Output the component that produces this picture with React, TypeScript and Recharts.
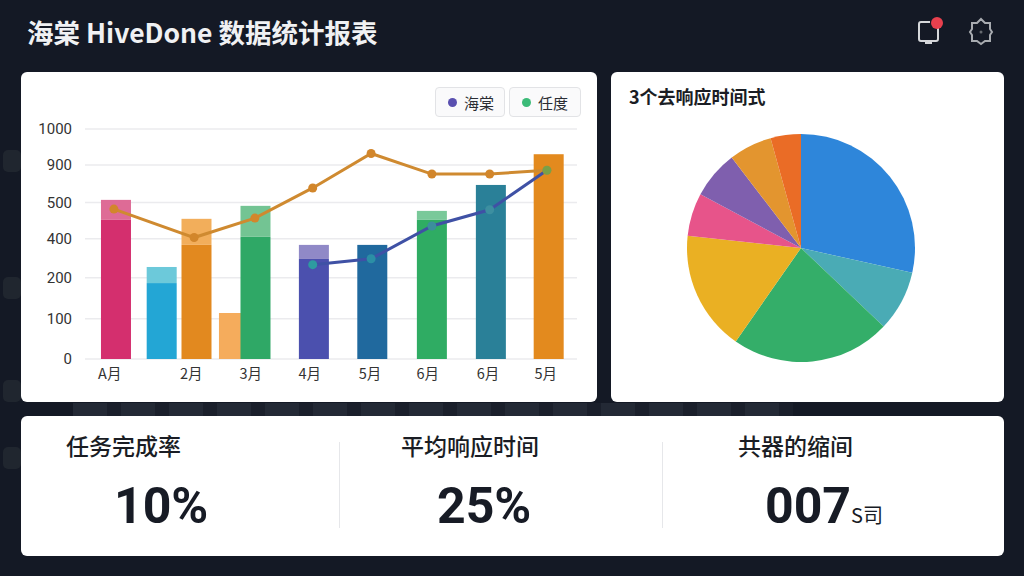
import { Bar, CartesianGrid, Cell, ComposedChart, Line, Pie, PieChart, XAxis, YAxis } from "recharts";

const FONT = '"Noto Sans CJK SC", "Noto Sans", sans-serif';

// y axis labels, and where each one sits on the axis (roughly even, not to scale)
const yTicks = [0, 100, 200, 400, 500, 900, 1000];
const yStops = [0, 1.05, 2.12, 3.14, 4.08, 5.06, 6];

// bars, left to right
const barX = [0.525, 1.3, 1.89, 2.525, 2.89, 3.88, 4.87, 5.88, 6.88, 7.86];
const barBase = [452, 187, 368, 114, 405, 296, 368, 452, 688, 930];
const barTop = [529, 255, 455, 114, 491, 368, 368, 477, 688, 930];
const baseColors = ["#d42f6e", "#23a6d5", "#e2891f", "#f5ac5c", "#2fa866", "#4b50ae", "#20699e", "#2fac63", "#2a8098", "#e38a1e"];
const topColors = ["#de6b96", "#6cc9da", "#f2ae5b", "#f5ac5c", "#73c493", "#9089c7", "#20699e", "#79c99a", "#2a8098", "#e38a1e"];

// lines
const lineX = [0.49, 1.85, 2.88, 3.86, 4.85, 5.88, 6.86, 7.83];
const orangeValues = [482, 403, 457, 656, 932, 804, 804, 845];
const indigoValues = [null, null, null, 267, 297, 435, 480, 845];
const indigoDots = ["", "", "", "#2e9aa0", "#2b8fa5", "#3b8f9c", "#3d8fa0", "#7aa048"];

// x axis
const xTicks = [0.42, 1.8, 2.81, 3.81, 4.83, 5.81, 6.83, 7.81];
const xLabels = ["A月", "2月", "3月", "4月", "5月", "6月", "6月", "5月"];

// pie
const pieValues = [28.5, 8.6, 22.6, 17, 6.1, 6.8, 6.1, 4.3];
const pieColors = ["#2e86da", "#4aabb5", "#34ae69", "#eab023", "#e7548a", "#7f5fae", "#e3952f", "#ea6c26"];

const legendItems = [
  { name: "海棠", color: "#5a50b0", width: 70 },
  { name: "任度", color: "#3cbb78", width: 72 },
];

const BAR_W = 30;

// value -> position on the axis
function toAxis(v: number) {
  for (let i = 1; i < yTicks.length; i++) {
    if (v <= yTicks[i]) {
      return yStops[i - 1] + ((v - yTicks[i - 1]) / (yTicks[i] - yTicks[i - 1])) * (yStops[i] - yStops[i - 1]);
    }
  }
  return yStops[yStops.length - 1];
}

const barRows = barX.map((x, i) => ({
  x,
  base: toAxis(barBase[i]),
  top: toAxis(barTop[i]) - toAxis(barBase[i]),
}));
const orangeRows = lineX.map((x, i) => ({ x, orange: toAxis(orangeValues[i]) }));
const indigoRows = lineX
  .map((x, i) => ({ x, indigo: indigoValues[i] === null ? null : toAxis(indigoValues[i] as number), color: indigoDots[i] }))
  .filter((d) => d.indigo !== null);
const pieData = pieValues.map((value, i) => ({ name: "s" + i, value }));

const card = (left: number, top: number, width: number, height: number): React.CSSProperties => ({
  position: "absolute",
  left,
  top,
  width,
  height,
  background: "#fff",
  borderRadius: 6,
});

// the axis is numeric, so the band is too narrow for the bar: widen around the scaled centre
const wideBar = (colors: string[]) => (p: any) =>
  <rect key={p.index} x={p.x + p.width / 2 - BAR_W / 2} y={p.y} width={BAR_W} height={Math.max(p.height, 0)} fill={colors[p.index]} />;

function Kpi({ label, value, unit, labelX, valueX }: { label: string; value: string; unit?: string; labelX: number; valueX: number }) {
  return (
    <>
      <div style={{ position: "absolute", left: labelX, top: 12, fontSize: 23, fontWeight: 500, color: "#1a1d24", whiteSpace: "nowrap" }}>{label}</div>
      <div style={{ position: "absolute", left: valueX, top: 55, fontFamily: "Roboto, sans-serif", fontSize: 50, lineHeight: "70px", fontWeight: 700, color: "#171b25", whiteSpace: "nowrap" }}>
        {value}
        {unit && <span style={{ fontFamily: FONT, fontSize: 20, fontWeight: 400 }}>{unit}</span>}
      </div>
    </>
  );
}

export default function App() {
  return (
    <div style={{ position: "fixed", left: 0, top: 0, width: 1024, height: 576, overflow: "hidden", background: "#141925", fontFamily: FONT }}>
      {/* faint shapes in the background */}
      <div
        style={{
          position: "absolute",
          left: 73,
          top: 403,
          width: 720,
          height: 13,
          background: "repeating-linear-gradient(90deg, #232935 0 34px, #1a1f2b 34px 48px)",
        }}
      />
      {[150, 277, 380, 447].map((y) => (
        <div key={y} style={{ position: "absolute", left: 3, top: y, width: 18, height: 22, borderRadius: 5, background: "#20262f" }} />
      ))}

      <div style={{ position: "absolute", left: 27, top: 13, fontSize: 26.5, lineHeight: "38px", fontWeight: 700, color: "#f0f1f3", whiteSpace: "nowrap" }}>
        海棠 HiveDone 数据统计报表
      </div>

      <svg width={100} height={40} style={{ position: "absolute", left: 910, top: 12 }} fill="none" stroke="#d5d7da" strokeWidth={2}>
        <path d="M20 10 H11 a2 2 0 0 0 -2 2 V27 a2 2 0 0 0 2 2 H26 a2 2 0 0 0 2 -2 V16 M16 29 v2 h5 v-2" />
        <circle cx={27} cy={11} r={6} fill="#e8404e" stroke="none" />
        <path d="M71 7 l4 4 h5 v6 l2 3 -2 3 v6 h-5 l-4 3 -4 -3 h-5 v-6 l-2 -3 2 -3 v-6 h5 z" stroke="#a8abb0" />
        <circle cx={71} cy={20} r={1.5} fill="#666a70" stroke="none" />
      </svg>

      {/* combo chart */}
      <div style={card(21, 72, 576, 330)}>
        <ComposedChart width={576} height={330} data={barRows} margin={{ top: 57, right: 20, bottom: 0, left: 0 }}>
          <CartesianGrid vertical={false} stroke="#ebebee" strokeWidth={1.5} />
          <XAxis
            dataKey="x"
            type="number"
            domain={[0, 8.34]}
            ticks={xTicks}
            interval={0}
            tickFormatter={(_: number, i: number) => xLabels[i]}
            axisLine={false}
            tickLine={false}
            height={43}
            tickMargin={4}
            tick={{ fontSize: 14.5, fill: "#333", fontFamily: FONT }}
          />
          <YAxis
            type="number"
            domain={[0, yStops[yStops.length - 1]]}
            ticks={yStops}
            interval={0}
            tickFormatter={(_: number, i: number) => String(yTicks[i])}
            axisLine={false}
            tickLine={false}
            width={64}
            tickMargin={7}
            tick={{ fontSize: 15, fill: "#333", fontFamily: "Roboto, sans-serif" }}
          />
          <Bar dataKey="base" stackId="a" shape={wideBar(baseColors)} isAnimationActive={false} />
          <Bar dataKey="top" stackId="a" shape={wideBar(topColors)} isAnimationActive={false} />
          <Line
            data={orangeRows}
            dataKey="orange"
            stroke="#cf8a30"
            strokeWidth={3}
            dot={{ r: 4.5, fill: "#d2862b", stroke: "none" }}
            isAnimationActive={false}
          />
          <Line
            data={indigoRows}
            dataKey="indigo"
            stroke="#3f51a5"
            strokeWidth={3}
            dot={(p: any) => <circle key={p.index} cx={p.cx} cy={p.cy} r={4.5} fill={p.payload.color} />}
            isAnimationActive={false}
          />
        </ComposedChart>
        <div style={{ position: "absolute", left: 414, top: 15, display: "flex", gap: 4 }}>
          {legendItems.map((d) => (
            <div
              key={d.name}
              style={{
                width: d.width,
                height: 30,
                boxSizing: "border-box",
                border: "1px solid #e2e3e6",
                borderRadius: 4,
                background: "#fafafb",
                display: "flex",
                alignItems: "center",
                paddingLeft: 12,
                fontSize: 15,
                color: "#2a2d33",
              }}
            >
              <span style={{ width: 9, height: 9, borderRadius: "50%", background: d.color, marginRight: 7 }} />
              {d.name}
            </div>
          ))}
        </div>
      </div>

      {/* pie chart */}
      <div style={card(611, 72, 393, 330)}>
        <div style={{ position: "absolute", left: 18, top: 11, fontSize: 18, fontWeight: 700, color: "#1a1d24", whiteSpace: "nowrap" }}>3个去响应时间式</div>
        <PieChart width={393} height={330} margin={{ top: 0, right: 0, bottom: 0, left: 0 }} style={{ position: "absolute", left: 0, top: 0 }}>
          <Pie
            data={pieData}
            dataKey="value"
            cx={190}
            cy={176}
            outerRadius={114}
            startAngle={90}
            endAngle={-270}
            stroke="none"
            isAnimationActive={false}
          >
            {pieData.map((_, i) => (
              <Cell key={i} fill={pieColors[i]} />
            ))}
          </Pie>
        </PieChart>
      </div>

      {/* kpi row */}
      <div style={card(21, 416, 983, 140)}>
        <div style={{ position: "absolute", left: 318, top: 26, width: 1, height: 86, background: "#e6e7ea" }} />
        <div style={{ position: "absolute", left: 641, top: 26, width: 1, height: 86, background: "#e6e7ea" }} />
        <Kpi label="任务完成率" value="10%" labelX={45} valueX={93} />
        <Kpi label="平均响应时间" value="25%" labelX={380} valueX={416} />
        <Kpi label="共器的缩间" value="007" unit="S司" labelX={717} valueX={744} />
      </div>
    </div>
  );
}
